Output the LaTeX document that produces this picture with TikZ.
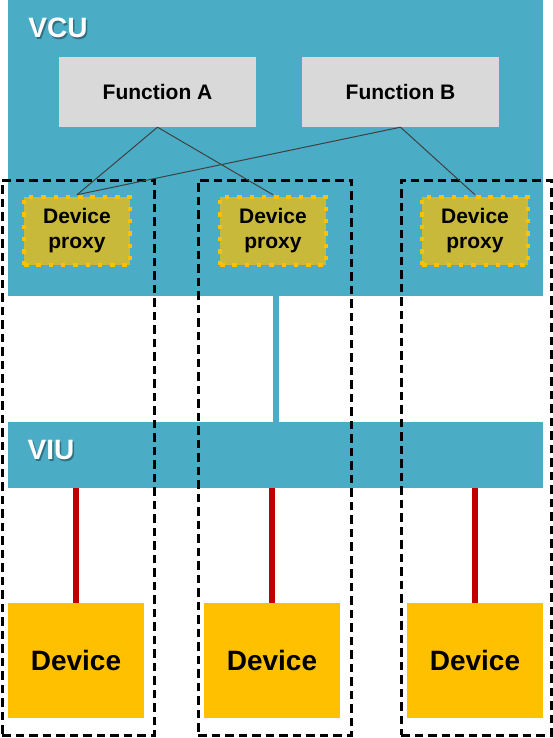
\documentclass[tikz,border=0pt]{standalone}
\usepackage{fontspec}
\setmainfont{Liberation Sans}
\definecolor{vblue}{HTML}{4BACC6}
\definecolor{fgrey}{HTML}{D9D9D9}
\definecolor{dyellow}{HTML}{FFC000}
\definecolor{polive}{RGB}{201,185,58}
\definecolor{dred}{HTML}{C00000}
\definecolor{lgrey}{HTML}{404040}
\begin{document}
\begin{tikzpicture}[x=1pt,y=-1pt,
  bar/.style={fill=vblue, draw=none, anchor=north west, inner sep=0},
  funcbox/.style={fill=fgrey, draw=none, minimum width=197pt, minimum height=70pt, inner sep=0, font=\fontsize{21}{25}\selectfont\bfseries},
  proxybox/.style={fill=polive, draw=dyellow, line width=4.5pt, dash pattern=on 4.5pt off 7.8pt, minimum width=106pt, minimum height=68pt, inner sep=0, align=center, font=\fontsize{21}{25}\selectfont\bfseries},
  devbox/.style={fill=dyellow, draw=none, minimum width=136pt, minimum height=115pt, inner sep=0, font=\fontsize{28}{32}\selectfont\bfseries},
  grpbox/.style={draw=black, line width=2.8pt, dash pattern=on 8.5pt off 5pt, fill=none, anchor=north west, inner sep=0},
  title/.style={text=white, font=\fontsize{28}{32}\selectfont\bfseries, inner sep=0},
  tshadow/.style={text=black, opacity=0.35, font=\fontsize{28}{32}\selectfont\bfseries, inner sep=0},
  flink/.style={draw=lgrey, line width=1pt},
  redlink/.style={draw=dred, line width=6pt},
  bluelink/.style={draw=vblue, line width=6pt}]
\useasboundingbox (0,0) rectangle (552,738);
% bars
\node[bar, minimum width=535pt, minimum height=296pt] (vcu) at (8,0) {};
\node[bar, minimum width=535pt, minimum height=66pt] (viu) at (8,422) {};
\node[tshadow] (vcushadow) at (59.5,29.5) {VCU};
\node[title] (vculabel) at (58,28) {VCU};
\node[tshadow] (viushadow) at (52.5,451.5) {VIU};
\node[title] (viulabel) at (51,450) {VIU};
% link VCU-VIU
\coordinate (bl) at (275.5,0);
\draw[bluelink] (vcu.south -| bl) -- (viu.north -| bl);
% functions
\node[funcbox] (funcA) at (157.5,92) {Function A};
\node[funcbox] (funcB) at (400.5,92) {Function B};
% proxies
\node[proxybox] (proxy1) at (77,231) {Device\\proxy};
\node[proxybox] (proxy2) at (273,231) {Device\\proxy};
\node[proxybox] (proxy3) at (475,231) {Device\\proxy};
% devices
\node[devbox] (dev1) at (76,660.5) {Device};
\node[devbox] (dev2) at (272,660.5) {Device};
\node[devbox] (dev3) at (475,660.5) {Device};
% red links
\draw[redlink] (viu.south -| dev1) -- (dev1.north);
\draw[redlink] (viu.south -| dev2) -- (dev2.north);
\draw[redlink] (viu.south -| dev3) -- (dev3.north);
% group boxes
\node[grpbox, minimum width=152pt, minimum height=555pt] (grp1) at (1,179) {};
\node[grpbox, minimum width=153pt, minimum height=555pt] (grp2) at (197,179) {};
\node[grpbox, minimum width=150pt, minimum height=555pt] (grp3) at (400,179) {};
% function links
\draw[flink] (funcA.south) -- (proxy1.north);
\draw[flink] (funcA.south) -- (proxy2.north);
\draw[flink] (funcB.south) -- (proxy1.north);
\draw[flink] (funcB.south) -- (proxy3.north);
\end{tikzpicture}
\end{document}
